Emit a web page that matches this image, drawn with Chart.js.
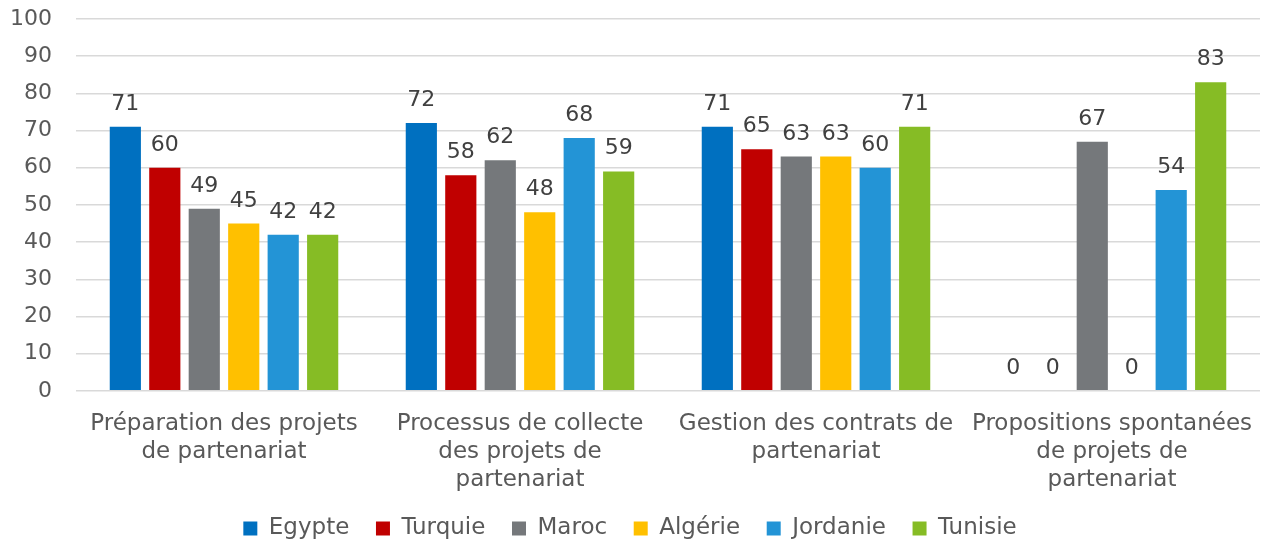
<!DOCTYPE html>
<html>
<head>
<meta charset="utf-8">
<script src="https://cdn.jsdelivr.net/npm/chart.js@4"></script>
<style>
  html, body { margin: 0; padding: 0; background: #fff; }
  #wrap { width: 1271px; height: 550px; }
</style>
</head>
<body>
<div id="wrap"><canvas id="chart"></canvas></div>
<script>
var categories = [
    ["Préparation des projets", "de partenariat"],
    ["Processus de collecte", "des projets de", "partenariat"],
    ["Gestion des contrats de", "partenariat"],
    ["Propositions spontanées", "de projets de", "partenariat"]
];
var countries = ["Egypte", "Turquie", "Maroc", "Algérie", "Jordanie", "Tunisie"];
var colors = ["#0070C0", "#C00000", "#75787B", "#FFC000", "#2394D6", "#86BC25"];

var egypte   = [71, 72, 71, 0];
var turquie  = [60, 58, 65, 0];
var maroc    = [49, 62, 63, 67];
var algerie  = [45, 48, 63, 0];
var jordanie = [42, 68, 60, 54];
var tunisie  = [42, 59, 71, 83];
var series = [egypte, turquie, maroc, algerie, jordanie, tunisie];

// draws the value above each bar
var valueLabels = {
    id: 'valueLabels',
    afterDatasetsDraw: function(chart) {
        var ctx = chart.ctx;
        ctx.save();
        ctx.font = '22px "DejaVu Sans"';
        ctx.fillStyle = '#404040';
        ctx.textAlign = 'center';
        ctx.textBaseline = 'alphabetic';
        chart.data.datasets.forEach(function(ds, i) {
            chart.getDatasetMeta(i).data.forEach(function(bar, j) {
                ctx.fillText(String(ds.data[j]), bar.x, bar.y - 17);
            });
        });
        ctx.restore();
    }
};

var datasets = countries.map(function(name, i) {
    return {
        label: name,
        data: series[i],
        backgroundColor: colors[i],
        borderWidth: 0,
        barPercentage: 0.79,
        categoryPercentage: 0.8
    };
});

var ctx = document.getElementById("chart").getContext("2d");
var chart = new Chart(ctx, {
    type: 'bar',
    data: { labels: categories, datasets: datasets },
    plugins: [valueLabels],
    options: {
        responsive: true,
        maintainAspectRatio: false,
        animation: false,
        layout: { padding: { left: 0, right: 11, top: 19, bottom: 0 } },
        plugins: {
            tooltip: { enabled: false },
            legend: {
                position: 'bottom',
                labels: {
                    boxWidth: 14,
                    boxHeight: 14,
                    padding: 12,
                    color: '#595959',
                    font: { family: '"DejaVu Sans"', size: 23 },
                    // a bit more room between legend entries
                    generateLabels: function(chart) {
                        var items = Chart.defaults.plugins.legend.labels.generateLabels(chart);
                        items.forEach(function(it, i) {
                            if (i < items.length - 1) it.text = it.text + '  ';
                        });
                        return items;
                    }
                }
            }
        },
        scales: {
            x: {
                grid: { display: false },
                border: { display: false },
                afterFit: function(scale) {
                    scale.paddingLeft = 0;
                    scale.paddingRight = 0;
                },
                ticks: {
                    color: '#595959',
                    maxRotation: 0,
                    autoSkip: false,
                    padding: 11,
                    font: { family: '"DejaVu Sans"', size: 23, lineHeight: 1.22 }
                }
            },
            y: {
                min: 0,
                max: 100,
                afterFit: function(scale) {
                    scale.width = 76;
                    scale.paddingTop = 0;
                    scale.paddingBottom = 0;
                },
                ticks: {
                    stepSize: 10,
                    color: '#595959',
                    padding: 24,
                    font: { family: '"DejaVu Sans"', size: 22 }
                },
                grid: { color: '#D9D9D9', lineWidth: 1.5, drawTicks: false },
                border: { display: false }
            }
        }
    }
});
</script>
</body>
</html>
